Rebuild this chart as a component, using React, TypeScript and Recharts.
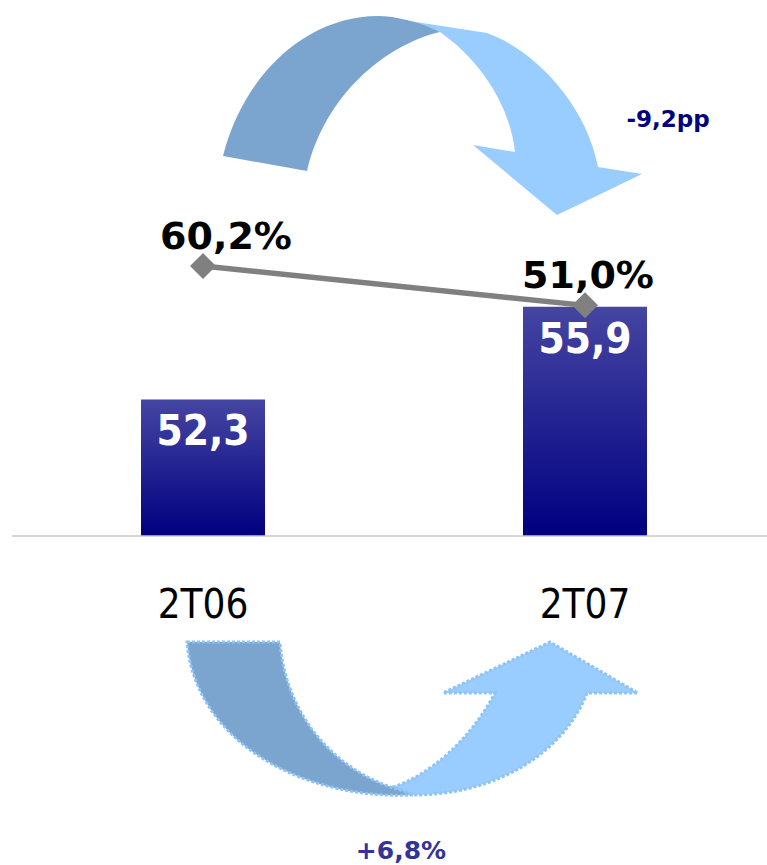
import React from 'react';
import { ComposedChart, Bar, Line, XAxis, YAxis, LabelList } from 'recharts';

const categories = ['2T06', '2T07'];
const revenue = [52.3, 55.9];
const ratio = [60.2, 51.0];
const changeLabels = ['-9,2pp', '+6,8%'];

const data = categories.map((cat, i) => ({ cat, value: revenue[i], ratio: ratio[i] }));

const LINE_LABEL_DX = [23, 3];
const fmt = (v: number) => v.toFixed(1).replace('.', ',');

const CatTick = (props: any) => {
  const { x, y, payload } = props;
  return (
    <text x={x} y={y + 82} textAnchor="middle" fill="#000"
      style={{ fontFamily: "'DejaVu Sans Condensed', 'DejaVu Sans', sans-serif", fontSize: 40 }}>
      {payload.value}
    </text>
  );
};

const BarLabel = (props: any) => {
  const { x, y, width, value } = props;
  return (
    <text x={x + width / 2} y={y + 46} textAnchor="middle" fill="#fff"
      style={{ fontFamily: "'DejaVu Sans Condensed', 'DejaVu Sans', sans-serif", fontSize: 42, fontWeight: 'bold' }}>
      {fmt(value)}
    </text>
  );
};

const LineLabel = (props: any) => {
  const { x, y, value, index } = props;
  return (
    <text x={x + (LINE_LABEL_DX[index] ?? 0)} y={y - 17} textAnchor="middle" fill="#000"
      style={{ fontFamily: "'DejaVu Sans', sans-serif", fontSize: 38, fontWeight: 'bold' }}>
      {fmt(value) + '%'}
    </text>
  );
};

const Diamond = (props: any) => {
  const { cx, cy, index } = props;
  const r = 13;
  return (
    <path key={'d' + index} d={`M ${cx} ${cy - r} L ${cx + r} ${cy} L ${cx} ${cy + r} L ${cx - r} ${cy} Z`} fill="#808080" />
  );
};

export default function App() {
  return (
    <div style={{ position: 'absolute', left: 0, top: 0, width: 767, height: 865, overflow: 'hidden', background: '#fff' }}>
      <div style={{ position: 'absolute', left: 0, top: 0 }}>
        <ComposedChart width={776} height={865} data={data} margin={{ top: 0, right: 0, bottom: 229, left: 12 }}>
          <defs>
            <linearGradient id="barGrad" x1="0" y1="0" x2="0" y2="1">
              <stop offset="0%" stopColor="#4545A2" />
              <stop offset="100%" stopColor="#000080" />
            </linearGradient>
          </defs>
          <XAxis dataKey="cat" height={100} interval={0} tickLine={false} tickSize={0} tickMargin={0}
            axisLine={{ stroke: '#c8c8c8', strokeWidth: 1.5 }} tick={<CatTick />} />
          <YAxis yAxisId="bar" hide domain={[47, 67.8]} />
          <YAxis yAxisId="line" hide domain={[-3, 122.5]} />
          <Bar yAxisId="bar" dataKey="value" barSize={124} fill="url(#barGrad)" isAnimationActive={false}>
            <LabelList dataKey="value" content={BarLabel} />
          </Bar>
          <Line yAxisId="line" dataKey="ratio" stroke="#808080" strokeWidth={5.5} dot={Diamond}
            activeDot={false} isAnimationActive={false}>
            <LabelList dataKey="ratio" content={LineLabel} />
          </Line>
        </ComposedChart>
      </div>
      <svg width={767} height={865} style={{ position: 'absolute', left: 0, top: 0, pointerEvents: 'none' }}>
        {/* top curved arrow */}
        <path d="M 390 18 L 487 33 C 530 48, 585 100, 598 167 L 642 174 L 557 215 L 473 145 L 515 152 C 510 105, 480 60, 440 32 Z" fill="#99CCFF" />
        <path d="M 223 156 C 245 70, 310 16, 378 16 C 395 16, 420 22, 440 32 C 385 45, 325 95, 307 171 Z" fill="#7BA5CE" />
        {/* bottom curved arrow */}
        <g stroke="#8EC3F7" strokeWidth={3} strokeDasharray="3 2">
          <path d="M 393 787 C 430 775, 470 740, 495 693 L 443 693 L 550 642 L 638 693 L 587 693 C 565 750, 500 795, 413 795 Z" fill="#99CCFF" />
          <path d="M 187 642 L 280 642 C 285 710, 330 770, 400 790 L 413 795 C 300 800, 195 740, 187 642 Z" fill="#7BA5CE" />
        </g>
        <text x={668} y={127} textAnchor="middle" fill="#000080"
          style={{ fontFamily: "'DejaVu Sans', sans-serif", fontSize: 23, fontWeight: 'bold' }}>{changeLabels[0]}</text>
        <text x={401} y={859} textAnchor="middle" fill="#333399"
          style={{ fontFamily: "'DejaVu Sans', sans-serif", fontSize: 25, fontWeight: 'bold' }}>{changeLabels[1]}</text>
      </svg>
    </div>
  );
}
